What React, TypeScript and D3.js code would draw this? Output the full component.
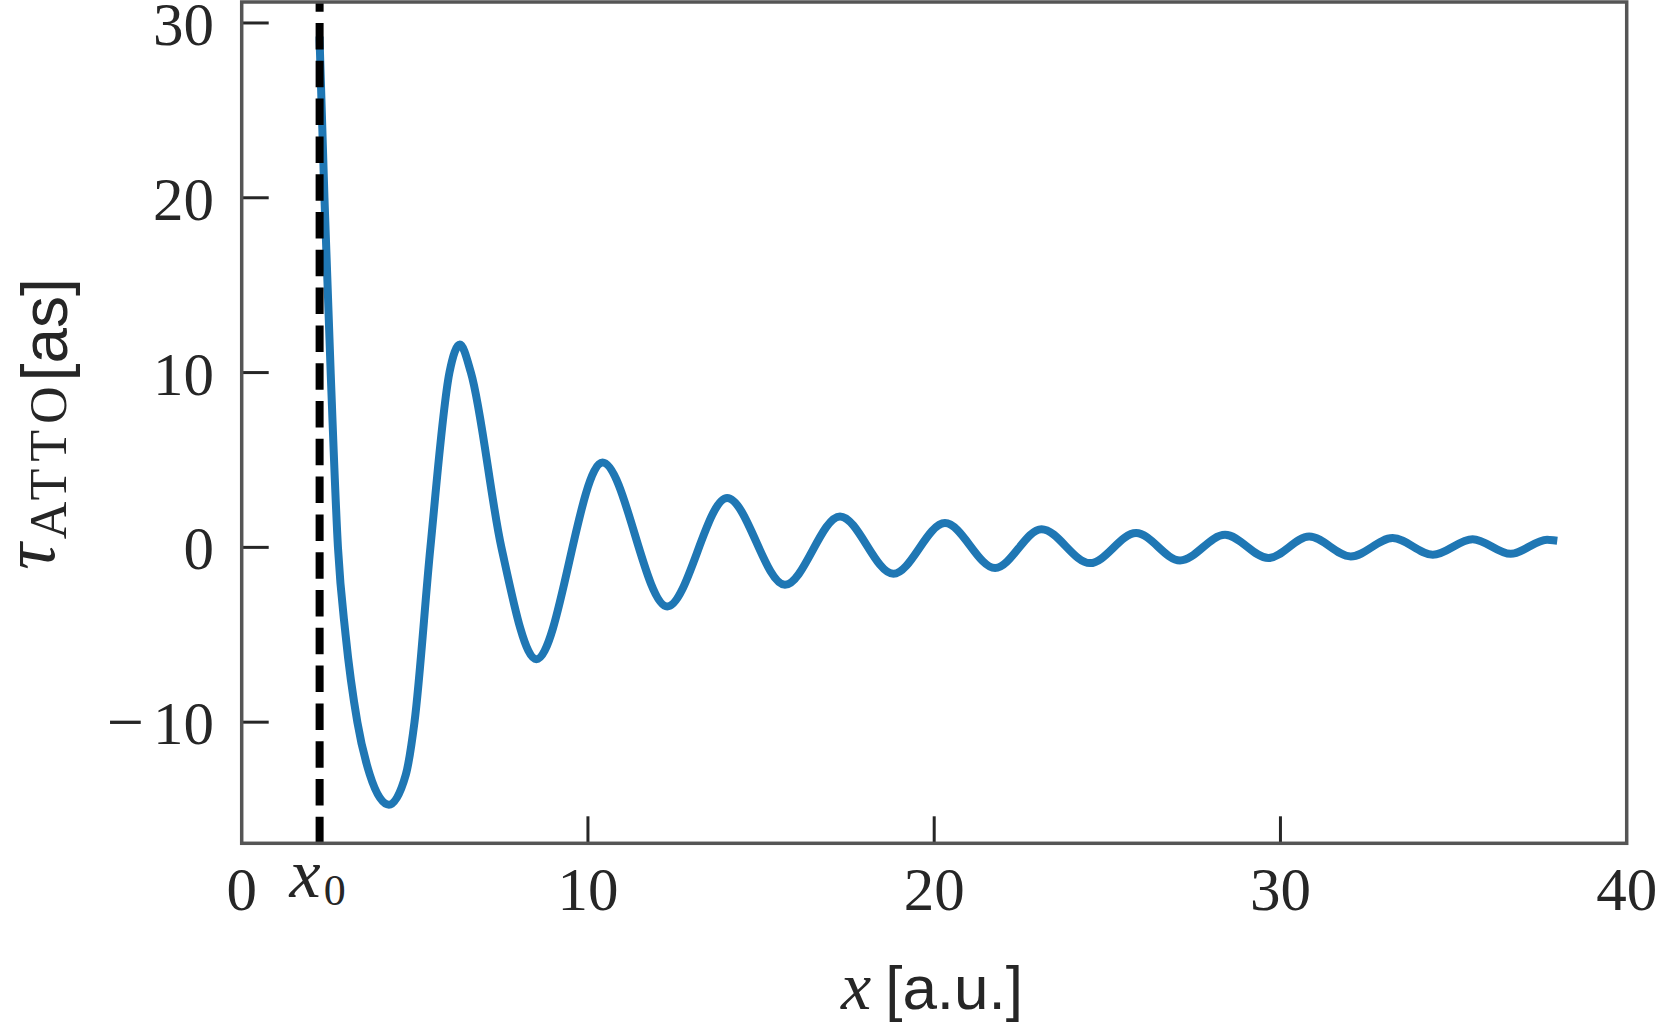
import React from "react";
import * as d3 from "d3";

// ---- data ----
const xDomain = [0, 40];
const yDomain = [-16.93, 31.2];
const xTickValues = [0, 10, 20, 30, 40];
const xTickLabels = ["0", "10", "20", "30", "40"];
const xInnerTicks = [10, 20, 30];
const yTickValues = [-10, 0, 10, 20, 30];
const yTickLabels = ["10", "0", "10", "20", "30"];
const yTickNegative = [true, false, false, false, false];
const x0Value = 2.25;

// early part: several readings per half period; from x≈8.5 on: turning points
const xData = [
  2.25, 2.39, 2.57, 2.78, 3.0, 3.34, 3.7, 4.25, 4.74, 4.99, 5.45, 6.0, 6.3, 6.62,
  7.5, 8.51, 10.42, 12.29, 14.02, 15.69, 17.28, 18.82, 20.31, 21.76, 23.1,
  24.5, 25.83, 27.1, 28.4, 29.65, 30.83, 32.03, 33.24, 34.4, 35.55, 36.65, 37.7, 37.88,
];
const tauData = [
  29.0, 20.0, 10.0, 0.0, -5.0, -10.0, -13.0, -14.72, -13.0, -10.0, 0.0, 10.0, 11.6, 10.0,
  0.0, -6.4, 4.85, -3.38, 2.82, -2.14, 1.77, -1.51, 1.39, -1.18, 1.04,
  -0.9, 0.82, -0.75, 0.72, -0.61, 0.62, -0.52, 0.53, -0.42, 0.47, -0.37, 0.44, 0.41,
];

const SERIF = "'Liberation Serif', 'DejaVu Serif', serif";
const SANS = "'Liberation Sans', 'DejaVu Sans', sans-serif";
const TEXT = "#262626";

export default function App() {
  const W = 1660;
  const H = 1025;
  const left = 241.7;
  const right = 1626.7;
  const top = 2;
  const bottom = 843.3;

  const xs = d3.scaleLinear().domain(xDomain).range([left, right]);
  const ys = d3.scaleLinear().domain(yDomain).range([bottom, top]);

  const line = d3
    .line<number>()
    .x((_, i) => xs(xData[i]))
    .y((d) => ys(d))
    .curve(d3.curveMonotoneX);

  const pathD = line(tauData) || "";
  const tickLen = 27;

  return (
    <svg
      width={W}
      height={H}
      viewBox={`0 0 ${W} ${H}`}
      style={{ position: "absolute", left: 0, top: 0, background: "#fff" }}
    >
      <rect x={0} y={0} width={W} height={H} fill="#fff" />

      {/* curve */}
      <path
        d={pathD}
        fill="none"
        stroke="#1f77b4"
        strokeWidth={8}
        strokeLinejoin="round"
        strokeLinecap="square"
      />

      {/* vertical dashed line at x0 */}
      <line
        x1={xs(x0Value)}
        x2={xs(x0Value)}
        y1={bottom}
        y2={top}
        stroke="#000"
        strokeWidth={8}
        strokeDasharray="26.5 11.3"
      />

      {/* y ticks */}
      {yTickValues.map((v) => (
        <line
          key={"yt" + v}
          x1={left}
          x2={left + tickLen}
          y1={ys(v)}
          y2={ys(v)}
          stroke={TEXT}
          strokeWidth={3}
        />
      ))}
      {/* x ticks */}
      {xInnerTicks.map((v) => (
        <line
          key={"xt" + v}
          x1={xs(v)}
          x2={xs(v)}
          y1={bottom}
          y2={bottom - tickLen}
          stroke={TEXT}
          strokeWidth={3}
        />
      ))}

      {/* frame */}
      <rect
        x={left}
        y={top}
        width={right - left}
        height={bottom - top}
        fill="none"
        stroke="#555555"
        strokeWidth={3.5}
      />

      {/* y tick labels */}
      {yTickValues.map((v, i) => (
        <text
          key={"yl" + v}
          x={214}
          y={ys(v) + 22}
          textAnchor="end"
          fontFamily={SERIF}
          fontSize={61}
          fill={TEXT}
        >
          {yTickNegative[i] ? (
            <>
              <tspan fontSize={66}>{"\u2212"}</tspan>
              <tspan dx={9}>{yTickLabels[i]}</tspan>
            </>
          ) : (
            yTickLabels[i]
          )}
        </text>
      ))}

      {/* x tick labels */}
      {xTickValues.map((v, i) => (
        <text
          key={"xl" + v}
          x={xs(v)}
          y={910}
          textAnchor="middle"
          fontFamily={SERIF}
          fontSize={61}
          fill={TEXT}
        >
          {xTickLabels[i]}
        </text>
      ))}
      {/* x0 label */}
      <text x={xs(x0Value) - 2} y={897} textAnchor="middle" fill={TEXT}>
        <tspan fontFamily={SERIF} fontStyle="italic" fontSize={70}>
          x
        </tspan>
        <tspan fontFamily={SERIF} fontSize={44} dy={8} dx={3}>
          0
        </tspan>
      </text>

      {/* x axis label */}
      <text x={932} y={1009} textAnchor="middle" fill={TEXT}>
        <tspan fontFamily={SERIF} fontStyle="italic" fontSize={68}>
          x
        </tspan>
        <tspan fontFamily={SANS} fontSize={62} dx={14}>
          [a.u.]
        </tspan>
      </text>

      {/* y axis label */}
      <g transform={`translate(0, ${424}) rotate(-90)`}>
        <text x={0} y={54} textAnchor="middle" fill={TEXT}>
          <tspan fontFamily={SERIF} fontStyle="italic" fontSize={74}>
            τ
          </tspan>
          <tspan fontFamily={SERIF} fontSize={52} dy={12} dx={4} letterSpacing={7}>
            ATTO
          </tspan>
          <tspan fontFamily={SANS} fontSize={64} dy={1} dx={-2}>
            [as]
          </tspan>
        </text>
      </g>
    </svg>
  );
}
